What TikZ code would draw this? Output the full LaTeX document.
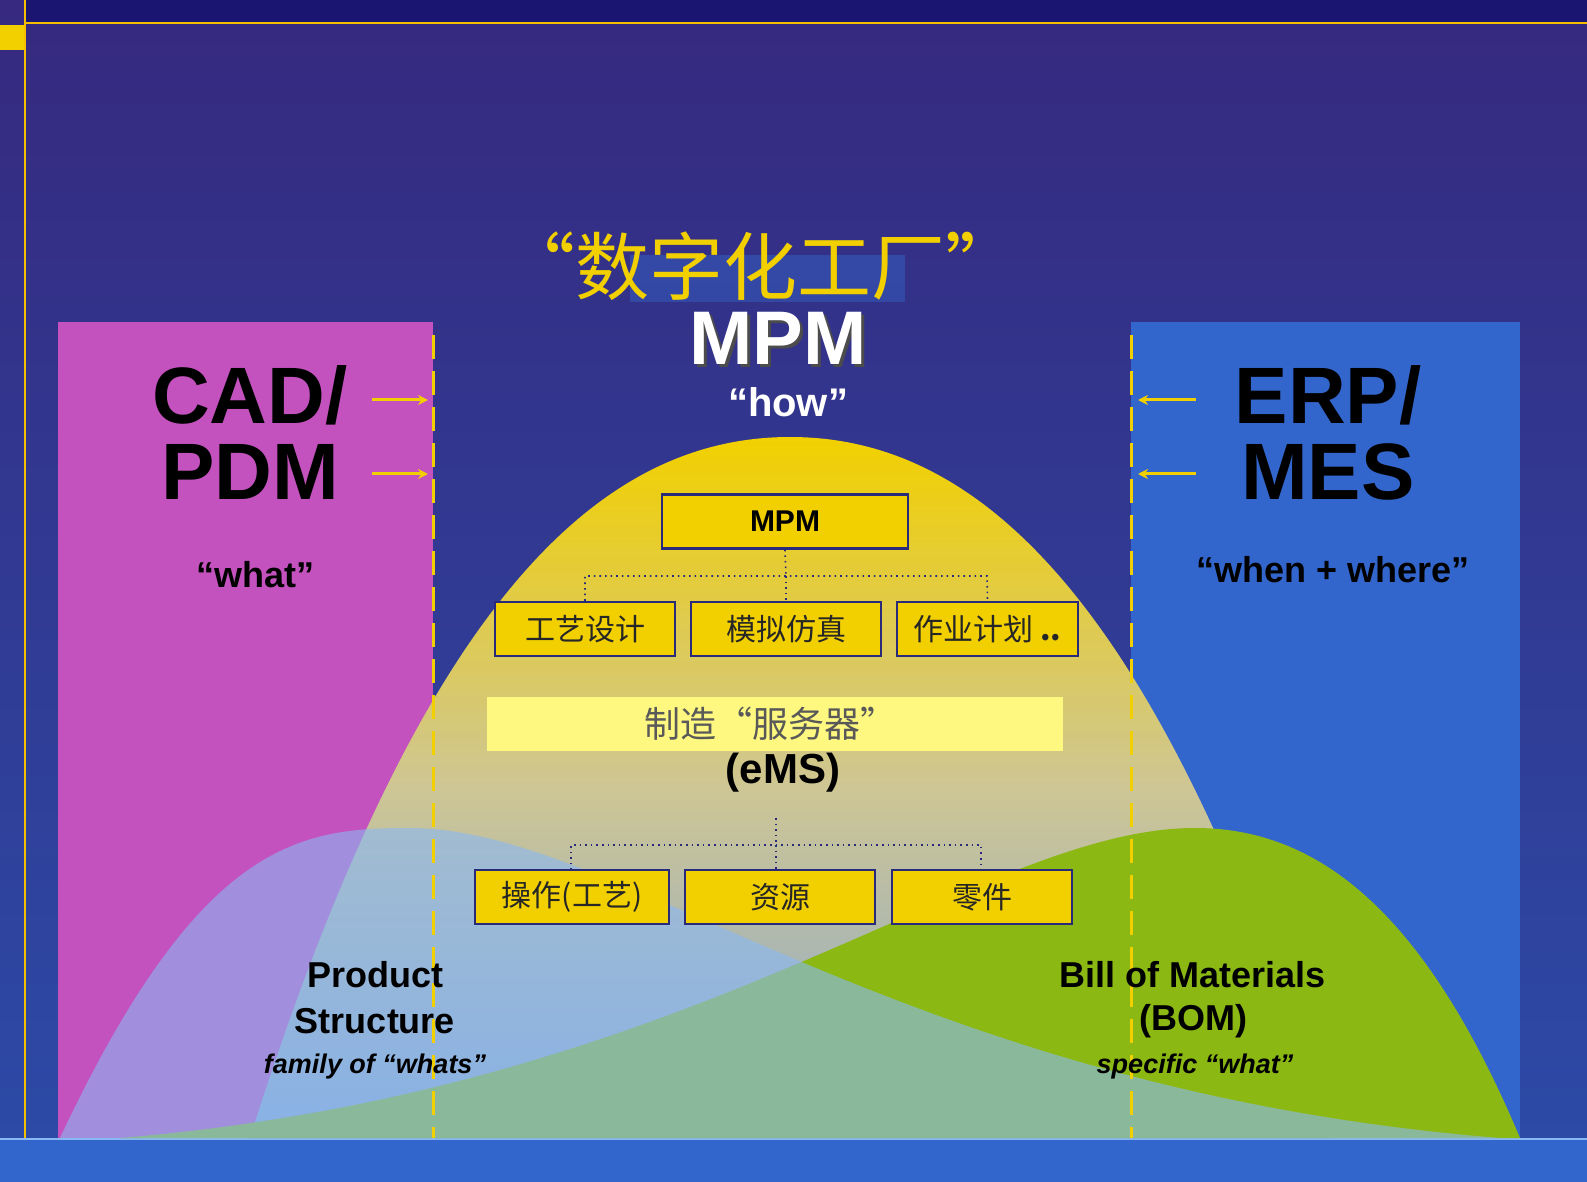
\documentclass[tikz,border=0pt]{standalone}
\usepackage{fontspec}
\setmainfont{Liberation Sans}
\newfontfamily\cjk{Noto Sans CJK SC}
\definecolor{bgtop}{HTML}{1A1570}
\definecolor{bgmain}{HTML}{36297F}
\definecolor{bgbot}{HTML}{2C4AA6}
\definecolor{mag}{HTML}{C452BE}
\definecolor{blu}{HTML}{3366CC}
\definecolor{yel}{HTML}{F2D000}
\definecolor{ltblue}{HTML}{8AB8F4}
\definecolor{grn}{HTML}{8CB814}
\definecolor{boxline}{HTML}{2A2A7A}
\tikzset{
  box/.style={draw=boxline,line width=1.2pt,fill=yel,minimum height=27pt,inner sep=0pt},
  cjkt/.style={font=\cjk\fontsize{15pt}{17pt}\selectfont,text=black!85},
  dotl/.style={draw=boxline,line width=0.8pt,dotted},
  arr/.style={draw=yel,line width=1.5pt,-{Stealth[length=5pt,width=5pt]}},
  big/.style={font=\bfseries\fontsize{40pt}{44pt}\selectfont},
  mid/.style={font=\bfseries\fontsize{18pt}{21pt}\selectfont},
}
\usetikzlibrary{arrows.meta}
\begin{document}
\begin{tikzpicture}[x=0.5pt,y=-0.5pt]
\useasboundingbox (0,0) rectangle (1587,1182);
\shade[top color=bgmain,bottom color=bgbot] (0,0) rectangle (1587,1140);
\fill[bgtop] (25,0) rectangle (1587,22);
\draw[yel!80!orange,line width=1pt] (25,23) -- (1587,23);
\draw[yel!80!orange,line width=0.6pt] (25,0) -- (25,1182);
\fill[yel] (0,25) rectangle (24,50);
\fill[blu] (0,1140) rectangle (1587,1182);
\draw[ltblue,line width=0.8pt] (0,1139) -- (1587,1139);
\fill[mag] (58,322) rectangle (433,1138);
\fill[blu] (1131,322) rectangle (1520,1138);
\shade[top color=yel,bottom color=ltblue!70!gray,middle color=yel!40!gray!60] (250,1138) .. controls (420,600) and (600,437) .. (790,437) .. controls (980,437) and (1160,600) .. (1330,1138) -- cycle;
\fill[grn] (120,1138) .. controls (700,1090) and (980,828) .. (1195,828) .. controls (1310,828) and (1420,900) .. (1520,1138) -- cycle;
\fill[ltblue,opacity=0.6] (60,1138) .. controls (200,840) and (300,828) .. (410,828) .. controls (620,828) and (900,1090) .. (1500,1138) -- cycle;
\draw[yel,line width=1.5pt,dash pattern=on 12pt off 6pt] (433,335) -- (433,1138);
\draw[yel,line width=1.5pt,dash pattern=on 12pt off 6pt] (1131,335) -- (1131,1138);
\coordinate (la1) at (372,400); \coordinate (lb1) at (428,400);
\coordinate (la2) at (372,474); \coordinate (lb2) at (428,474);
\coordinate (ra1) at (1196,400); \coordinate (rb1) at (1138,400);
\coordinate (ra2) at (1196,474); \coordinate (rb2) at (1138,474);
\draw[arr] (la1) -- (lb1); \draw[arr] (la2) -- (lb2);
\draw[arr] (ra1) -- (rb1); \draw[arr] (ra2) -- (rb2);
\fill[blu!60!bgmain,opacity=0.8] (630,255) rectangle (905,302);
\node[text=yel,font=\cjk\fontsize{37pt}{40pt}\selectfont] (title) at (760,266) {“数字化工厂”};
\node[text=white,font=\bfseries\fontsize{38pt}{42pt}\selectfont] (mpm) at (778,340) {\rlap{\kern1.5pt\raisebox{-1.5pt}{\color{black!70}MPM}}MPM};
\node[text=white,font=\bfseries\fontsize{20pt}{24pt}\selectfont] (how) at (788,402) {“how”};
\node[big] (cad) at (250,395) {CAD/};
\node[big] (pdm) at (250,472) {PDM};
\node[mid] (what) at (255,575) {“what”};
\node[big] (erp) at (1328,395) {ERP/};
\node[big] (mes) at (1328,472) {MES};
\node[mid] (ww) at (1333,570) {“when + where”};
\node[box,minimum width=123pt,font=\bfseries\fontsize{15pt}{17pt}\selectfont] (bmpm) at (785,521.5) {MPM};
\node[box,cjkt,minimum width=90pt] (b1) at (585,629) {工艺设计};
\node[box,cjkt,minimum width=95pt] (b2) at (786,629) {模拟仿真};
\node[box,cjkt,minimum width=90.5pt] (b3) at (987.5,629) {作业计划 \textbf{..}};
\draw[dotl] (bmpm.south) -- (786,576);
\draw[dotl] (b1.north) -- (585,576) -- (987,576) -- (b3.north);
\draw[dotl] (786,576) -- (b2.north);
\fill[yellow!50] (487,697) rectangle (1063,751);
\node[font=\cjk\fontsize{18pt}{20pt}\selectfont,text=black!65] (srv) at (770,724) {制造“服务器”};
\node[font=\bfseries\fontsize{21pt}{24pt}\selectfont] (ems) at (783,773) {(eMS)};
\node[box,cjkt,minimum width=97pt] (c1) at (572,897) {操作(工艺)};
\node[box,cjkt,minimum width=95pt] (c2) at (780,897) {资源};
\node[box,cjkt,minimum width=90pt] (c3) at (982,897) {零件};
\draw[dotl] (776,818) -- (776,845);
\draw[dotl] (571,870) -- (571,845) -- (981,845) -- (981,870);
\draw[dotl] (776,845) -- (776,870);
\node[mid] (ps1) at (375,975) {Product};
\node[mid] (ps2) at (375,1021) {Structure};
\node[font=\bfseries\itshape\fontsize{13.5pt}{16pt}\selectfont] (ps3) at (375,1067) {family of “whats”};
\node[mid] (bm1) at (1193,975) {Bill of Materials};
\node[mid] (bm2) at (1193,1021) {(BOM)};
\node[font=\bfseries\itshape\fontsize{13.5pt}{16pt}\selectfont] (bm3) at (1195,1067) {specific “what”};
\end{tikzpicture}
\end{document}
